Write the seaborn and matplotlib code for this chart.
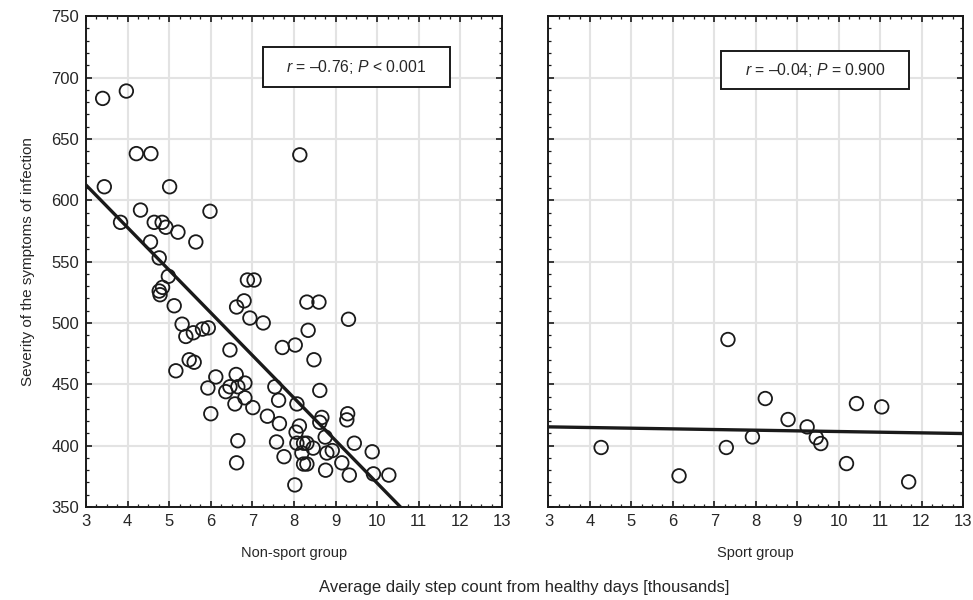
# Step count vs. severity of infection symptoms, non-sport vs. sport group
import pandas as pd
import matplotlib
matplotlib.use("Agg")
import matplotlib.pyplot as plt
from matplotlib.patches import Rectangle
from matplotlib.ticker import MultipleLocator
import seaborn as sns

# Non-sport group (steps in thousands, severity score)
nonsport_steps = [3.40, 3.97, 4.21, 4.56, 3.44, 5.01, 4.31, 5.98, 3.83, 4.64,
                  4.83, 4.92, 5.21, 5.64, 4.55, 4.76, 4.98, 4.76, 4.84, 4.78,
                  5.12, 5.31, 5.40, 5.58, 5.80, 5.94, 5.48, 5.60, 5.16, 6.46,
                  6.12, 5.93, 6.36, 6.46, 6.61, 6.65, 6.82, 6.58, 6.82, 7.01,
                  6.00, 6.65, 6.62, 6.88, 7.04, 6.80, 6.62, 6.94, 7.26, 7.36,
                  7.54, 7.63, 7.65, 7.58, 7.76, 7.72, 8.03, 8.02, 8.07, 8.13,
                  8.05, 8.07, 8.23, 8.31, 8.19, 8.46, 8.23, 8.31, 8.31, 8.60,
                  9.31, 8.34, 8.48, 8.62, 8.67, 8.62, 9.29, 9.27, 8.75, 8.79,
                  8.92, 9.45, 9.88, 9.15, 8.76, 9.33, 9.91, 10.28, 8.14]
nonsport_severity = [683, 689, 638, 638, 611, 611, 592, 591, 582, 582,
                     582, 578, 574, 566, 566, 553, 538, 526, 529, 523,
                     514, 499, 489, 492, 495, 496, 470, 468, 461, 478,
                     456, 447, 444, 448, 458, 448, 451, 434, 439, 431,
                     426, 404, 386, 535, 535, 518, 513, 504, 500, 424,
                     448, 437, 418, 403, 391, 480, 482, 368, 434, 416,
                     411, 402, 402, 402, 394, 398, 385, 385, 517, 517,
                     503, 494, 470, 445, 423, 419, 426, 421, 407, 394,
                     396, 402, 395, 386, 380, 376, 377, 376, 637]

# Sport group
sport_steps = [4.27, 6.15, 7.33, 7.29, 7.92, 8.23, 8.78, 9.24, 9.46, 9.57,
               10.19, 10.43, 11.04, 11.69]
sport_severity = [398.5, 375.4, 486.5, 398.5, 407.1, 438.4, 421.3, 415.3,
                  406.6, 401.7, 385.4, 434.3, 431.6, 370.5]

panel_labels = ["Non-sport group", "Sport group"]
stat_labels = ["$r$ = \u20130.76; $P$ < 0.001", "$r$ = \u20130.04; $P$ = 0.900"]
ylabel = "Severity of the symptoms of infection"
xlabel = "Average daily step count from healthy days [thousands]"

sns.set_theme(style="white")
plt.rcParams["font.family"] = ["Liberation Sans", "DejaVu Sans"]
plt.rcParams["mathtext.fontset"] = "custom"
plt.rcParams["mathtext.it"] = "Liberation Sans:italic"
plt.rcParams["mathtext.rm"] = "Liberation Sans"

text_color = "#262626"

df_non = pd.DataFrame({"steps": nonsport_steps, "severity": nonsport_severity})
df_sport = pd.DataFrame({"steps": sport_steps, "severity": sport_severity})

fig = plt.figure(figsize=(9.73, 6.0), dpi=100)
ax1 = fig.add_axes([0.0884, 0.155, 0.4275, 0.818])
ax2 = fig.add_axes([0.5637, 0.155, 0.426, 0.818])

boxes = [(0.425, 0.856, 0.450, 0.0815), (0.416, 0.851, 0.454, 0.078)]

for i, (ax, df) in enumerate([(ax1, df_non), (ax2, df_sport)]):
    ax.set_xlim(3, 13)
    ax.set_ylim(350, 750)
    ax.xaxis.set_major_locator(MultipleLocator(1))
    ax.xaxis.set_minor_locator(MultipleLocator(0.25))
    ax.yaxis.set_major_locator(MultipleLocator(50))
    ax.yaxis.set_minor_locator(MultipleLocator(10))
    ax.grid(True, which="major", color="#e3e3e3", linewidth=1.5, zorder=0)
    ax.set_axisbelow(True)

    sns.regplot(data=df, x="steps", y="severity", ax=ax, scatter=False,
                ci=None, truncate=False,
                line_kws={"color": "#1a1a1a", "linewidth": 2.4, "zorder": 3})
    sns.scatterplot(data=df, x="steps", y="severity", ax=ax, s=95,
                    facecolor="none", edgecolor="#1a1a1a", linewidth=1.3,
                    zorder=4)
    ax.set_xlim(3, 13)
    ax.set_ylim(350, 750)

    for sp in ax.spines.values():
        sp.set_color("#1a1a1a")
        sp.set_linewidth(1.4)
    ax.tick_params(which="both", direction="in", top=True, right=True,
                   bottom=True, left=True, colors="#1a1a1a",
                   labelcolor=text_color, labelsize=12)
    ax.tick_params(which="major", length=4, width=1.2, pad=5)
    ax.tick_params(which="minor", length=2.2, width=0.9)

    ax.set_xlabel(panel_labels[i], fontsize=10.5, color=text_color, labelpad=12)
    ax.set_ylabel("")

    bx, by, bw, bh = boxes[i]
    ax.add_patch(Rectangle((bx, by), bw, bh, transform=ax.transAxes,
                           facecolor="white", edgecolor="#1a1a1a",
                           linewidth=1.4, zorder=5))
    ax.text(bx + bw / 2, by + bh / 2, stat_labels[i], transform=ax.transAxes,
            ha="center", va="center", fontsize=11.3, color=text_color,
            zorder=6)

ax2.tick_params(labelleft=False)
ax1.set_ylabel(ylabel, fontsize=11, color=text_color, labelpad=12)

fig.text(0.539, 0.008, xlabel, ha="center", va="bottom", fontsize=12,
         color=text_color)

fig.savefig("out.png", dpi=100)
